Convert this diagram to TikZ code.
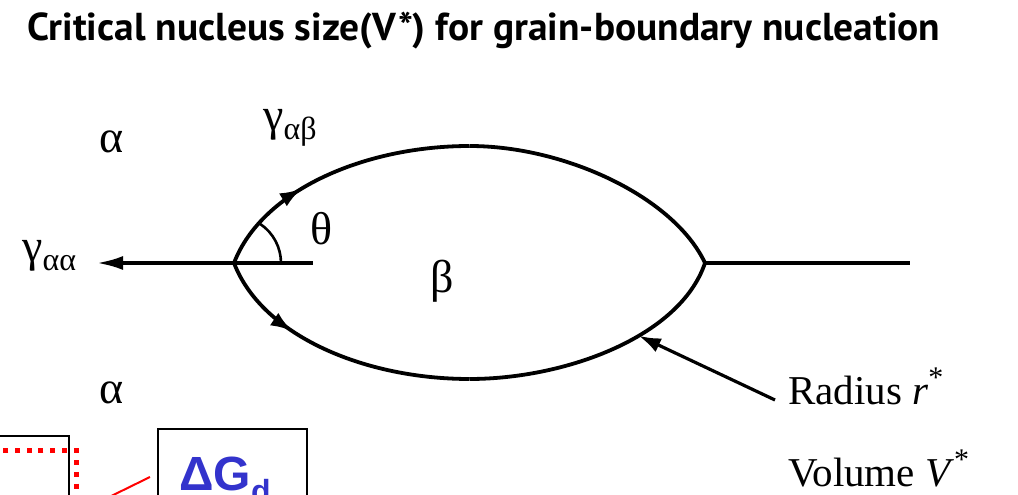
\documentclass[tikz,border=0pt]{standalone}
\usepackage{fontspec}
\usepackage{graphicx}
\setmainfont{Liberation Serif}
\newfontfamily\titlefont{PT Sans}
\newfontfamily\dgfont{Liberation Sans}
\usetikzlibrary{arrows.meta,decorations.markings}
\definecolor{dgblue}{RGB}{51,51,204}
\newcommand{\bigstarsup}{\raisebox{17pt}{\fontsize{30}{30}\selectfont *}}
\begin{document}
\begin{tikzpicture}[x=1pt,y=1pt,
  lens/.style={line width=3.8pt},
  flow/.style={postaction={decorate},decoration={markings,
     mark=at position #1 with {\arrow{Latex[length=22pt,width=15pt]}}}},
  greek/.style={inner sep=0pt,font=\fontsize{46}{46}\selectfont},
  label/.style={inner sep=0pt,font=\fontsize{41}{41}\selectfont},
  redline/.style={red,line width=5pt,dash pattern=on 5pt off 6.7pt},
  framebox/.style={draw,line width=2pt,inner sep=0pt}]
\useasboundingbox (0,0) rectangle (1018,495);
\clip (0,0) rectangle (1018,495);
\fill[white] (0,0) rectangle (1018,495);

% title
\node[anchor=north west,inner sep=0pt] (title) at (27,483)
  {\resizebox*{913pt}{37pt}{\titlefont\bfseries Critical nucleus size(V*) for grain-boundary nucleation}};

% lens geometry
\coordinate (tipL) at (234,232);
\coordinate (tipR) at (705,232);
\coordinate (topC) at (469.5,349);
\coordinate (botC) at (469.5,116);
\coordinate (hEnd) at (313,232);
\coordinate (rEnd) at (910,232);

\draw[lens,flow=0.37] (tipL) .. controls (262,305) and (365,349) .. (topC);
\draw[lens] (topC) .. controls (565,349) and (674,298) .. (tipR);
\draw[lens,flow=0.33] (tipL) .. controls (262,159) and (365,116) .. (botC);
\draw[lens] (botC) .. controls (565,116) and (680,158) .. (tipR) coordinate[pos=0.6] (rpt);

% labels
\node[greek] (a1) at (112,353) {α};
\node[greek] (a2) at (112,102) {α};
\node[greek,anchor=base west] (gab) at (263,364) {γ\raisebox{-9pt}{\fontsize{32}{32}\selectfont αβ}};
\node[greek] (th) at (322,266) {θ};
\node[greek] (be) at (442,214) {β};
\node[greek,anchor=base west] (gaa) at (22,233) {γ\raisebox{-9pt}{\fontsize{32}{32}\selectfont αα}};

% boundary lines
\draw[line width=3.4pt,-{Latex[length=26pt,width=14pt]}] (tipL) -- (97,232);
\draw[line width=3.4pt] (tipL) -- (hEnd);
\draw[line width=3.4pt] (tipR) -- (rEnd);
\draw[line width=2.6pt] ([shift={(0:47)}]tipL) arc[start angle=0,end angle=56,radius=47];

% radius / volume
\node[label,anchor=base west] (rad) at (788,90) {Radius \textit{r}\bigstarsup};
\node[label,anchor=base west] (vol) at (788,8) {Volume \textit{V}\bigstarsup};
\coordinate (rs) at (775,95);
\draw[line width=3.2pt,-{Latex[length=22pt,width=15pt]}] (rs) -- (rpt);

% bottom-left fragments
\draw[line width=2pt] (-10,59) -- (69,59) -- (69,-10);
\draw[redline] (78.5,44) -- (-10,44);
\draw[redline] (76,46.5) -- (76,-10);
\coordinate (rl0) at (95,-9);
\coordinate (rl1) at (150,18);
\draw[red,line width=2pt] (rl0) -- (rl1);

% Delta G_d box
\node[framebox,minimum width=149pt,minimum height=120pt,anchor=north west] (dgbox) at (157,67) {};
\node[anchor=base west,inner sep=0pt,text=dgblue,font=\dgfont\bfseries\fontsize{48}{48}\selectfont] (dg) at (179,4) {ΔG\raisebox{-12pt}{\fontsize{32}{32}\selectfont d}};
\end{tikzpicture}
\end{document}
